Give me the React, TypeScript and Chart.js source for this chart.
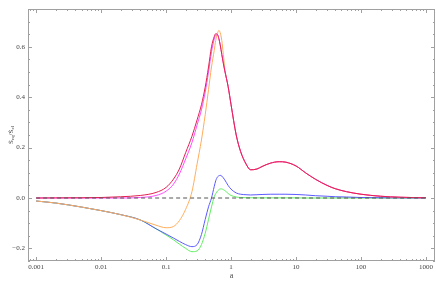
import React, { useEffect, useRef } from "react";
import { Chart, registerables } from "chart.js";

Chart.register(...registerables);

// ---- data ----
const aValues = [
  0.001, 0.002, 0.005, 0.01, 0.02, 0.04, 0.07, 0.1, 0.13, 0.16, 0.2, 0.25, 0.3,
  0.35, 0.4, 0.45, 0.5, 0.55, 0.58, 0.62, 0.65, 0.68, 0.72, 0.76, 0.8, 0.9, 1.0,
  1.2, 1.4, 1.7, 2.0, 2.5, 3, 4, 5.5, 7, 10, 14, 20, 30, 40, 60, 100, 200, 400, 1000,
];

const redValues = [
  0.0, 0.0005, 0.001, 0.002, 0.005, 0.01, 0.022, 0.042, 0.075, 0.115, 0.18, 0.245, 0.31,
  0.37, 0.44, 0.52, 0.6, 0.64, 0.652, 0.648, 0.632, 0.608, 0.57, 0.535, 0.505, 0.443, 0.37,
  0.25, 0.185, 0.135, 0.112, 0.115, 0.125, 0.138, 0.144, 0.142, 0.127, 0.1, 0.074, 0.05, 0.037, 0.025, 0.015, 0.007, 0.003, 0.001,
];

const magentaValues = [
  0.0, 0.0, 0.0, 0.0, 0.0, 0.002, 0.01, 0.027, 0.055, 0.095, 0.155, 0.22, 0.29,
  0.35, 0.42, 0.5, 0.58, 0.63, 0.647, 0.647, 0.632, 0.608, 0.57, 0.535, 0.505, 0.443, 0.37,
  0.25, 0.185, 0.135, 0.112, 0.115, 0.125, 0.138, 0.144, 0.142, 0.127, 0.1, 0.074, 0.05, 0.037, 0.025, 0.015, 0.007, 0.003, 0.001,
];

const orangeValues = [
  -0.012, -0.02, -0.036, -0.05, -0.066, -0.087, -0.108, -0.118, -0.113, -0.09, -0.045, 0.025, 0.135,
  0.23, 0.33, 0.43, 0.52, 0.585, 0.625, 0.655, 0.665, 0.656, 0.625, 0.57, 0.515, 0.443, 0.37,
  0.25, 0.185, 0.135, 0.112, 0.115, 0.125, 0.138, 0.144, 0.142, 0.127, 0.1, 0.074, 0.05, 0.037, 0.025, 0.015, 0.007, 0.003, 0.001,
];

const blueValues = [
  -0.012, -0.02, -0.036, -0.05, -0.066, -0.087, -0.122, -0.143, -0.159, -0.172, -0.185, -0.193, -0.185,
  -0.145, -0.085, -0.035, 0.0, 0.045, 0.068, 0.084, 0.088, 0.09, 0.087, 0.08, 0.072, 0.05, 0.035,
  0.02, 0.015, 0.013, 0.012, 0.013, 0.014, 0.015, 0.015, 0.015, 0.014, 0.012, 0.009, 0.007, 0.005, 0.004, 0.002, 0.001, 0.0005, 0.0,
];

const greenValues = [
  -0.012, -0.02, -0.036, -0.05, -0.066, -0.087, -0.122, -0.147, -0.166, -0.183, -0.2, -0.213, -0.21,
  -0.185, -0.14, -0.085, -0.035, 0.005, 0.017, 0.028, 0.033, 0.036, 0.036, 0.033, 0.03, 0.018, 0.01,
  0.004, 0.002, 0.001, 0.001, 0.0005, 0.0005, 0.0005, 0.0005, 0.0005, 0.0005, 0.0, 0.0, 0.0, 0.0, 0.0, 0.0, 0.0, 0.0, 0.0,
];

const zeroLineX = [0.001, 1000];
const zeroLineY = [0, 0];

const xTickValues = [0.001, 0.01, 0.1, 1, 10, 100, 1000];
const xTickLabels = ["0.001", "0.01", "0.1", "1", "10", "100", "1000"];
const yTickValues = [-0.2, 0, 0.2, 0.4, 0.6];
const yTickLabels = ["\u22120.2", "0.0", "0.2", "0.4", "0.6"];

const xMin = 0.00075;
const xMax = 1375;
const yMin = -0.25;
const yMax = 0.75;

const FONT = "'Liberation Serif', 'Times New Roman', serif";
const TEXT_COLOR = "#444";
const FRAME_COLOR = "#a0a0a0";

const toPoints = (xs: number[], ys: number[]) => xs.map((x, i) => ({ x, y: ys[i] }));

const framePlugin = {
  id: "frameTicks",
  beforeDatasetsDraw(chart: any) {
    const { ctx, chartArea } = chart;
    const { left, right, top, bottom } = chartArea;
    const xs = chart.scales.x;
    const ys = chart.scales.y;
    ctx.save();
    ctx.strokeStyle = FRAME_COLOR;
    ctx.lineWidth = 1;
    ctx.strokeRect(left + 0.5, top + 0.5, right - left - 1, bottom - top - 1);
    ctx.beginPath();
    for (let e = -4; e <= 3; e++) {
      for (let k = 1; k <= 9; k++) {
        const v = k * Math.pow(10, e);
        if (v < xMin || v > xMax) continue;
        const px = Math.round(xs.getPixelForValue(v)) + 0.5;
        const len = k === 1 ? 4 : 2;
        ctx.moveTo(px, bottom);
        ctx.lineTo(px, bottom - len);
        ctx.moveTo(px, top);
        ctx.lineTo(px, top + len);
      }
    }
    for (let i = -5; i <= 15; i++) {
      const v = i * 0.05;
      const py = Math.round(ys.getPixelForValue(v)) + 0.5;
      const len = i % 4 === 0 ? 4 : 2;
      ctx.moveTo(left, py);
      ctx.lineTo(left + len, py);
      ctx.moveTo(right, py);
      ctx.lineTo(right - len, py);
    }
    ctx.stroke();
    ctx.restore();
  },
  afterDraw(chart: any) {
    const { ctx, chartArea } = chart;
    ctx.save();
    ctx.fillStyle = TEXT_COLOR;
    ctx.font = `8px ${FONT}`;
    ctx.textAlign = "center";
    ctx.textBaseline = "middle";
    ctx.fillText("a", (chartArea.left + chartArea.right) / 2, 276);
    ctx.translate(10, (chartArea.top + chartArea.bottom) / 2);
    ctx.rotate(-Math.PI / 2);
    const parts: [string, boolean][] = [
      ["\u1E60", false],
      ["eq", true],
      ["/", false],
      ["\u1E60", false],
      ["el", true],
    ];
    const big = `7px ${FONT}`;
    const small = `5px ${FONT}`;
    let total = 0;
    for (const [t, sub] of parts) {
      ctx.font = sub ? small : big;
      total += ctx.measureText(t).width;
    }
    let x = -total / 2;
    ctx.textAlign = "left";
    ctx.textBaseline = "alphabetic";
    for (const [t, sub] of parts) {
      ctx.font = sub ? small : big;
      ctx.fillText(t, x, sub ? 4 : 2.5);
      x += ctx.measureText(t).width;
    }
    ctx.restore();
  },
};

export default function App() {
  const ref = useRef<HTMLCanvasElement | null>(null);
  useEffect(() => {
    let chart: any = null;
    let cancelled = false;
    const build = () => {
      if (cancelled || !ref.current) return;
      const line = (data: number[], color: string) => ({
        data: toPoints(aValues, data),
        borderColor: color,
        borderWidth: 1,
        pointRadius: 0,
        fill: false,
        cubicInterpolationMode: "monotone" as const,
      });
      chart = new Chart(ref.current, {
        type: "line",
        data: {
          datasets: [
            {
              data: toPoints(zeroLineX, zeroLineY),
              borderColor: "#555",
              borderWidth: 1,
              borderDash: [4, 3],
              pointRadius: 0,
              fill: false,
            },
            line(redValues, "#e3204f"),
            line(magentaValues, "#ff4dff"),
            line(orangeValues, "#ffad5c"),
            line(blueValues, "#5a5aff"),
            line(greenValues, "#5fee5f"),
          ],
        },
        options: {
          animation: false,
          responsive: false,
          events: [],
          layout: { padding: { top: 9, right: 1, left: 0, bottom: 0 } },
          plugins: { legend: { display: false }, tooltip: { enabled: false } },
          elements: { point: { radius: 0 } },
          scales: {
            x: {
              type: "logarithmic",
              min: xMin,
              max: xMax,
              grid: { display: false, drawTicks: false, tickLength: 0 },
              border: { display: false },
              afterBuildTicks: (s: any) => {
                s.ticks = xTickValues.map((v) => ({ value: v }));
              },
              afterFit: (s: any) => {
                s.height = 20;
              },
              ticks: {
                autoSkip: false,
                maxRotation: 0,
                minRotation: 0,
                padding: 2,
                color: TEXT_COLOR,
                font: { family: FONT, size: 7 },
                callback: (_v: any, i: number) => xTickLabels[i],
              },
            },
            y: {
              type: "linear",
              min: yMin,
              max: yMax,
              grid: { display: false, drawTicks: false, tickLength: 0 },
              border: { display: false },
              afterBuildTicks: (s: any) => {
                s.ticks = yTickValues.map((v) => ({ value: v }));
              },
              afterFit: (s: any) => {
                s.width = 28;
              },
              ticks: {
                autoSkip: false,
                padding: 3,
                color: TEXT_COLOR,
                font: { family: FONT, size: 7 },
                callback: (_v: any, i: number) => yTickLabels[i],
              },
            },
          },
        },
        plugins: [framePlugin],
      } as any);
    };
    const fonts: any = (document as any).fonts;
    if (fonts && fonts.load) {
      Promise.all([
        fonts.load("7px 'Liberation Serif'"),
        fonts.load("8px 'Liberation Serif'"),
      ]).then(build, build);
    } else {
      build();
    }
    return () => {
      cancelled = true;
      if (chart) chart.destroy();
    };
  }, []);
  return (
    <div style={{ position: "absolute", left: 0, top: 0, width: 436, height: 281, background: "#fff" }}>
      <canvas ref={ref} width={436} height={281} style={{ display: "block" }} />
    </div>
  );
}
